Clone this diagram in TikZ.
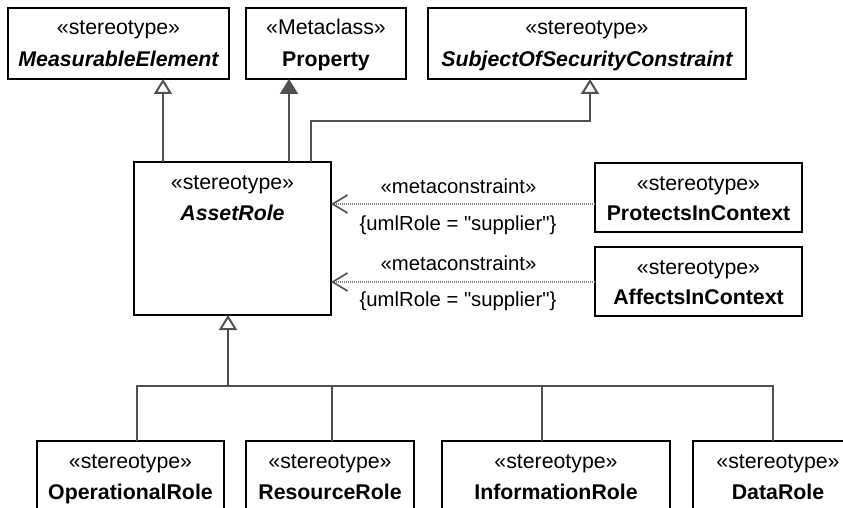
\documentclass[tikz,border=0pt]{standalone}
\usepackage{fontspec}
\setmainfont{Liberation Sans}
\newfontfamily\lblfont{Liberation Sans}
\usetikzlibrary{arrows.meta,calc}
\definecolor{conn}{HTML}{505050}
\definecolor{dotc}{HTML}{808080}
\tikzset{
  umlbox/.style={draw=black, line width=2pt, fill=white, inner sep=0pt, outer sep=0pt},
  boxtxt/.style={inner sep=0pt, font=\fontsize{21.3}{25}\selectfont},
  lbl/.style={inner sep=0pt, font=\lblfont\fontsize{20.3}{24}\selectfont},
  conline/.style={draw=conn, line width=2pt},
  gen/.style={conline, -{Triangle[open, length=15pt, width=18pt, fill=white]}},
  genfill/.style={conline, -{Triangle[length=15pt, width=18pt]}},
  meta/.style={draw=dotc, line width=1.1pt, dash pattern=on 1pt off 1pt,
    -{Straight Barb[length=15pt, width=18pt, line width=1.6pt, color=conn]}},
}
\newcommand\umlbox[8]{%
  \node[umlbox, minimum width={#4-#2}, minimum height={#5-#3}, anchor=north west] (#1) at (#2,#3) {};
  \node[boxtxt, anchor=base] (#1-s) at ($(#1.north)+(0,27)$) {#6};
  \node[boxtxt, anchor=base] (#1-n) at ($(#1.north)+(0,#8)$) {#7};
}
\begin{document}
\begin{tikzpicture}[x=1pt, y=-1pt]
\useasboundingbox (0,0) rectangle (843,508);
\fill[white] (0,0) rectangle (843,508);
\clip (0,0) rectangle (843,508);

% top row
\umlbox{me}{8}{8}{229}{79}{«stereotype»}{\bfseries\itshape MeasurableElement}{58.5}
\umlbox{prop}{246}{8}{406}{79}{«Metaclass»}{\bfseries Property}{58.5}
\umlbox{sosc}{428}{8}{746}{79}{«stereotype»}{\bfseries\itshape SubjectOfSecurityConstraint}{58.5}

% middle
\umlbox{ar}{134}{162}{331}{315}{«stereotype»}{\bfseries\itshape AssetRole}{58}
\umlbox{pic}{595}{163}{802}{232}{«stereotype»}{\bfseries ProtectsInContext}{57.5}
\umlbox{aic}{595}{247}{802}{316}{«stereotype»}{\bfseries AffectsInContext}{57.5}

% bottom row
\umlbox{opr}{37}{441}{224}{540}{«stereotype»}{\bfseries OperationalRole}{58}
\umlbox{rr}{246}{441}{414}{540}{«stereotype»}{\bfseries ResourceRole}{58}
\umlbox{ir}{442}{441}{670}{540}{«stereotype»}{\bfseries InformationRole}{58}
\umlbox{dr}{693}{441}{863}{540}{«stereotype»}{\bfseries DataRole}{58}

% connector end points
\coordinate (a1) at ($(ar.north west)+(29,0)$);
\coordinate (a2) at ($(ar.north west)+(155,0)$);
\coordinate (a3) at ($(ar.north west)+(177,0)$);
\coordinate (bend) at ($(ar.north west)+(177,-41)$);
\coordinate (soscin) at ($(sosc.south)+(3,0)$);
\coordinate (m1) at ($(pic.west)+(0,6.5)$);
\coordinate (m2) at ($(aic.west)+(0,0.5)$);
\coordinate (bus) at ($(ar.south west)+(94,71)$);
\coordinate (c1) at ($(opr.north west)+(100,0)$);
\coordinate (c2) at ($(rr.north west)+(86,0)$);
\coordinate (c3) at ($(ir.north west)+(100,0)$);
\coordinate (c4) at ($(dr.north west)+(80,0)$);

% generalizations to the top row
\draw[gen] (a1) -- (a1 |- me.south);
\draw[genfill] (a2) -- (a2 |- prop.south);
\draw[gen] (a3) -- (bend) -| (soscin);

% metaconstraints
\draw[meta] (m1) -- (m1 -| ar.east);
\draw[meta] (m2) -- (m2 -| ar.east);
\node[lbl, anchor=base] (m1a) at (458.5,193.5) {«metaconstraint»};
\node[lbl, anchor=base] (m1b) at (458,230) {\{umlRole = "supplier"\}};
\node[lbl, anchor=base] (m2a) at (458.5,270) {«metaconstraint»};
\node[lbl, anchor=base] (m2b) at (458,306.5) {\{umlRole = "supplier"\}};

% generalization from the bottom row
\draw[gen] (bus) -- (bus |- ar.south);
\draw[conline] (c1) |- (bus) -| (c4);
\draw[conline] (c2) -- (c2 |- bus);
\draw[conline] (c3) -- (c3 |- bus);
\end{tikzpicture}
\end{document}
